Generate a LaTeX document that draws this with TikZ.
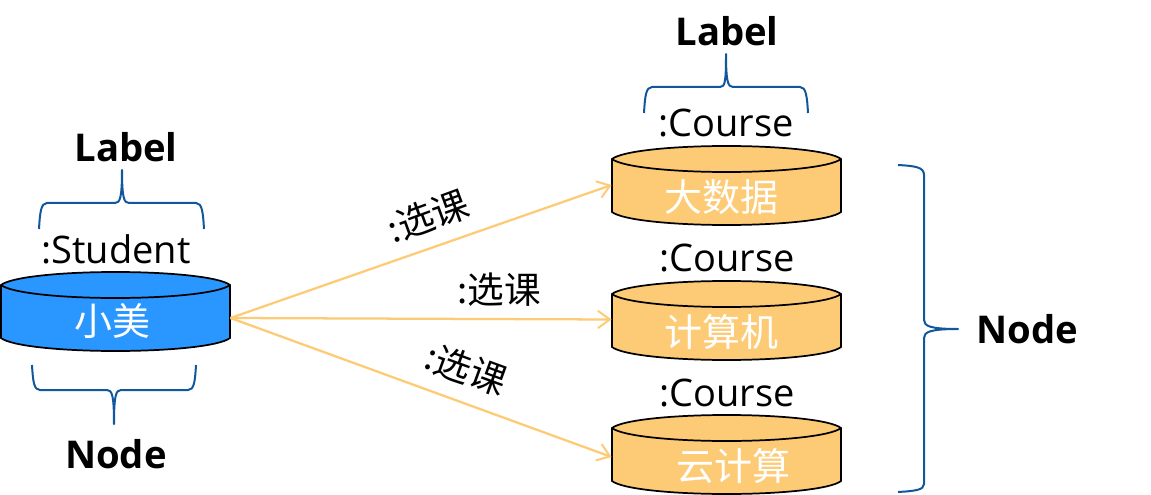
\documentclass[tikz,border=0pt]{standalone}
\usepackage{fontspec}
\setmainfont{Open Sans}
\newfontfamily\cjk{Noto Sans CJK SC}
\usetikzlibrary{arrows.meta}
\definecolor{bracecol}{HTML}{11579B}
\definecolor{orangecol}{HTML}{FDCB75}
\definecolor{bluecol}{HTML}{2997FF}
\tikzset{
  bracepath/.style={draw=bracecol,line width=1.5pt,line join=round},
  link/.style={draw=orangecol,line width=1.7pt,-{Straight Barb[length=9pt,width=13pt,line width=1.5pt]}},
  bigbold/.style={font=\fontsize{28.7pt}{30pt}\selectfont\bfseries,inner sep=0pt,anchor=center},
  typetext/.style={font=\fontsize{28.5pt}{30pt}\selectfont,inner sep=0pt,anchor=center},
  edgetext/.style={font=\fontsize{27.5pt}{28pt}\selectfont\cjk,inner sep=0pt,anchor=center},
  cyltext/.style={font=\fontsize{28.5pt}{28pt}\selectfont\cjk,text=white,inner sep=0pt,anchor=center},
  cylbox/.style={minimum width=172pt,minimum height=40pt,inner sep=0pt}
}
% name, left x, top y, colour, y of the anchor below the top
\newcommand{\cyl}[5]{%
  \path[fill=#4,draw=black,line width=1.3pt]
    (#2,#3+13) -- (#2,#3+66) .. controls (#2+10,#3+74) and (#2+60,#3+79) .. (#2+114.5,#3+79)
    .. controls (#2+169,#3+79) and (#2+219,#3+74) .. (#2+229,#3+66) -- (#2+229,#3+13)
    .. controls (#2+219,#3+5) and (#2+169,#3) .. (#2+114.5,#3)
    .. controls (#2+60,#3) and (#2+10,#3+5) .. (#2,#3+13) -- cycle;
  \path[draw=black,line width=1.3pt]
    (#2,#3+13) .. controls (#2+10,#3+21) and (#2+60,#3+26) .. (#2+114.5,#3+26)
    .. controls (#2+169,#3+26) and (#2+219,#3+21) .. (#2+229,#3+13);
  \node[cylbox] (#1) at (#2+114.5,#3+#5) {};
}
\begin{document}
\begin{tikzpicture}[x=0.75pt,y=-0.75pt]
\useasboundingbox (0,0) rectangle (1151,495);
\cyl{stu}{1}{272}{bluecol}{46}
\cyl{ca}{612}{146}{orangecol}{39}
\cyl{cb}{612}{281}{orangecol}{38.5}
\cyl{cc}{612}{415}{orangecol}{42}
\node[cyltext] (stut) at (112,321) {小美};
\node[cyltext] (cat) at (721,197) {大数据};
\node[cyltext] (cbt) at (721,332) {计算机};
\node[cyltext] (cct) at (733,466) {云计算};
\node[typetext] (stul) at (116,249) {:Student};
\node[typetext] (cal) at (726,123) {:Course};
\node[typetext] (cbl) at (727,258) {:Course};
\node[typetext] (ccl) at (727,393) {:Course};
\node[bigbold] (lab1) at (126,147) {Label};
\node[bigbold] (lab2) at (727,31) {Label};
\node[bigbold] (nod1) at (116,454) {Node};
\node[bigbold] (nod2) at (1027,329) {Node};
\draw[link] (stu.east) -- (ca.west);
\draw[link] (stu.east) -- (cb.west);
\draw[link] (stu.east) -- (cc.west);
\node[edgetext,rotate=20] (e1) at (428,216) {:选课};
\node[edgetext] (e2) at (499,290) {:选课};
\node[edgetext,rotate=-20] (e3) at (466,369) {:选课};
% braces
\path[bracepath] (39,229) .. controls (40,212) and (41,203) .. (47,203) -- (115,203)
  .. controls (120,203) and (122,198) .. (122,170)
  .. controls (122,198) and (124,203) .. (129,203) -- (196,203)
  .. controls (202,203) and (203,212) .. (204,229);
\path[bracepath] (644,113) .. controls (645,96) and (646,87) .. (652,87) -- (720,87)
  .. controls (725,87) and (726,82) .. (726,54)
  .. controls (726,82) and (728,87) .. (733,87) -- (800,87)
  .. controls (806,87) and (807,96) .. (808,113);
\path[bracepath] (32,365) .. controls (33,382) and (34,390) .. (40,390) -- (107,390)
  .. controls (112,390) and (114,395) .. (114,424)
  .. controls (114,395) and (116,390) .. (121,390) -- (188,390)
  .. controls (194,390) and (195,382) .. (196,365);
\path[bracepath] (898,165) .. controls (915,166) and (924,167) .. (924,175) -- (924,320)
  .. controls (924,326) and (930,329) .. (958,329)
  .. controls (930,329) and (924,332) .. (924,338) -- (924,484)
  .. controls (924,490) and (915,491) .. (898,492);
\end{tikzpicture}
\end{document}
